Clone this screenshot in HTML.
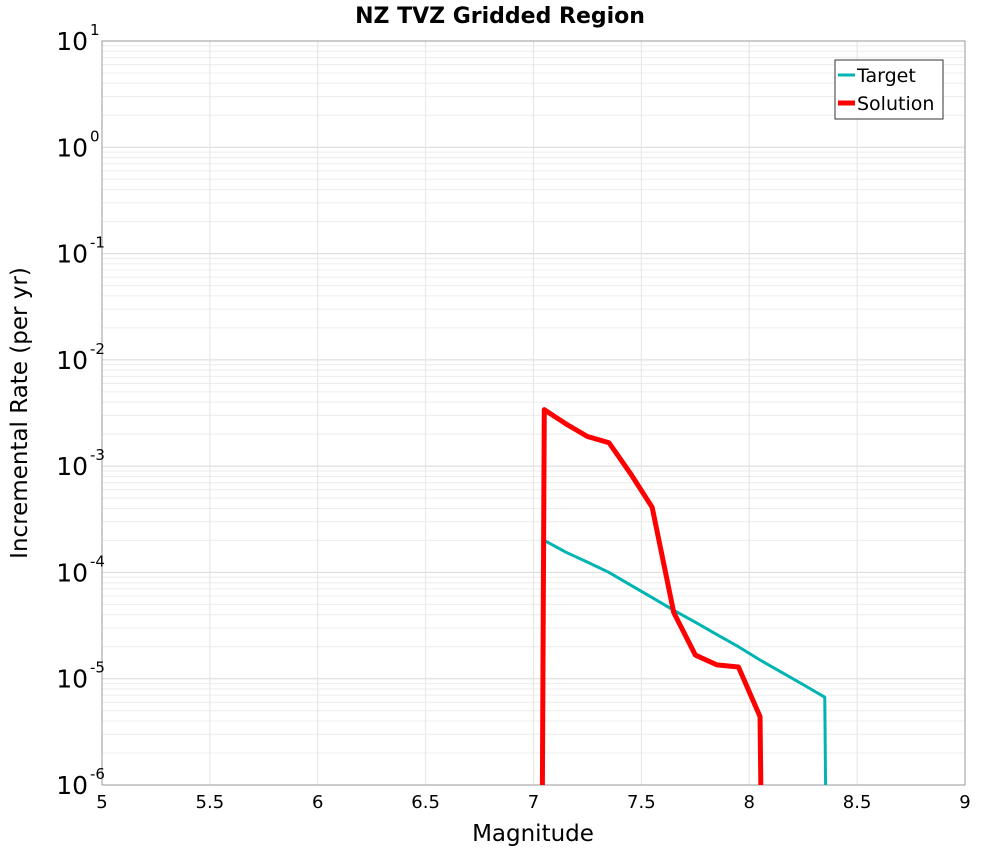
<!DOCTYPE html>
<html><head><meta charset="utf-8"><style>
body{margin:0;background:#fff;font-family:"DejaVu Sans","Liberation Sans",sans-serif;}
svg text{font-family:"DejaVu Sans","Liberation Sans",sans-serif;}
</style></head><body>
<svg id="chart" width="1000" height="850" xmlns="http://www.w3.org/2000/svg">
<text x="500" y="23" text-anchor="middle" font-size="22" font-weight="bold">NZ TVZ Gridded Region</text>
<g id="grid"></g>
<rect x="102" y="41" width="863" height="744" fill="none" stroke="#999" stroke-width="1"/>
<g id="xticks"></g>
<g id="yticks"></g>
<text x="533" y="841" text-anchor="middle" font-size="23">Magnitude</text>
<text transform="translate(27,413) rotate(-90)" text-anchor="middle" font-size="23">Incremental Rate (per yr)</text>
<defs><clipPath id="clip"><rect x="102" y="41" width="863" height="744"/></clipPath></defs>
<g id="series" clip-path="url(#clip)"></g>
<g>
<rect x="835" y="60" width="108" height="59" fill="#fff" stroke="#333"/>
<line x1="838" y1="75" x2="855" y2="75" stroke="#00b4b4" stroke-width="3"/>
<text x="857" y="82" font-size="19">Target</text>
<line x1="838" y1="103" x2="855" y2="103" stroke="#ff0000" stroke-width="5"/>
<text x="857" y="110" font-size="19">Solution</text>
</g>
</svg>
<script>
const xTicks=[5,5.5,6,6.5,7,7.5,8,8.5,9];
const yExps=[1,0,-1,-2,-3,-4,-5,-6];
const targetMags=[7.05,7.15,7.25,7.35,7.45,7.55,7.65,7.75,7.85,7.95,8.05,8.15,8.25,8.35];
const targetVals=[2.0e-4,1.55e-4,1.25e-4,1.0e-4,7.6e-5,5.8e-5,4.4e-5,3.4e-5,2.6e-5,2.0e-5,1.5e-5,1.15e-5,8.8e-6,6.7e-6];
const solutionMags=[7.05,7.15,7.25,7.35,7.45,7.55,7.65,7.75,7.85,7.95,8.05];
const solutionVals=[3.4e-3,2.5e-3,1.9e-3,1.66e-3,8.5e-4,4.1e-4,4.2e-5,1.67e-5,1.35e-5,1.29e-5,4.4e-6];
const X0=102,X1=965,Y0=41,Y1=785;
const xs=m=>X0+(m-5)/(9-5)*(X1-X0);
const ys=v=>Y0+(1-Math.log10(v))/7*(Y1-Y0);
const NS="http://www.w3.org/2000/svg";
function mk(tag,attrs,parent){const e=document.createElementNS(NS,tag);for(const k in attrs)e.setAttribute(k,attrs[k]);parent.appendChild(e);return e;}
const grid=document.getElementById('grid');
for(let e=-6;e<1;e++){for(let k=1;k<10;k++){const y=ys(k*Math.pow(10,e));
const l=mk('line',{x1:X0,x2:X1,y1:y,y2:y,stroke:k==1?'#d8d8d8':'#ececec','stroke-width':1},grid);

}}
xTicks.forEach(t=>{const x=xs(t);
const l=mk('line',{x1:x,x2:x,y1:Y0,y2:Y1,stroke:'#e4e4e4','stroke-width':1},grid);


const tx=mk('text',{x:x,y:808,'text-anchor':'middle','font-size':18},document.getElementById('xticks'));
tx.textContent=String(t);

});
yExps.forEach(e=>{const y=ys(Math.pow(10,e));
const tx=mk('text',{x:88,y:y+9,'text-anchor':'end','font-size':25},document.getElementById('yticks'));
tx.textContent='10';


const sp=mk('text',{x:90,y:y-6,'text-anchor':'start','font-size':15},document.getElementById('yticks'));
sp.textContent=String(e);

});
function series(mags,vals,color,w,name){
let pts=[[xs(mags[0])-2,Y1+20]];
mags.forEach((m,i)=>pts.push([xs(m),ys(vals[i])]));
pts.push([xs(mags[mags.length-1])+1,Y1+20]);
const p=mk('polyline',{points:pts.map(p=>p.join(',')).join(' '),fill:'none',stroke:color,'stroke-width':w,'stroke-linejoin':'round'},document.getElementById('series'));

}
series(targetMags,targetVals,'#00b4b4',3,'target-line');
series(solutionMags,solutionVals,'#ff0000',5,'solution-line');
</script>
</body></html>
